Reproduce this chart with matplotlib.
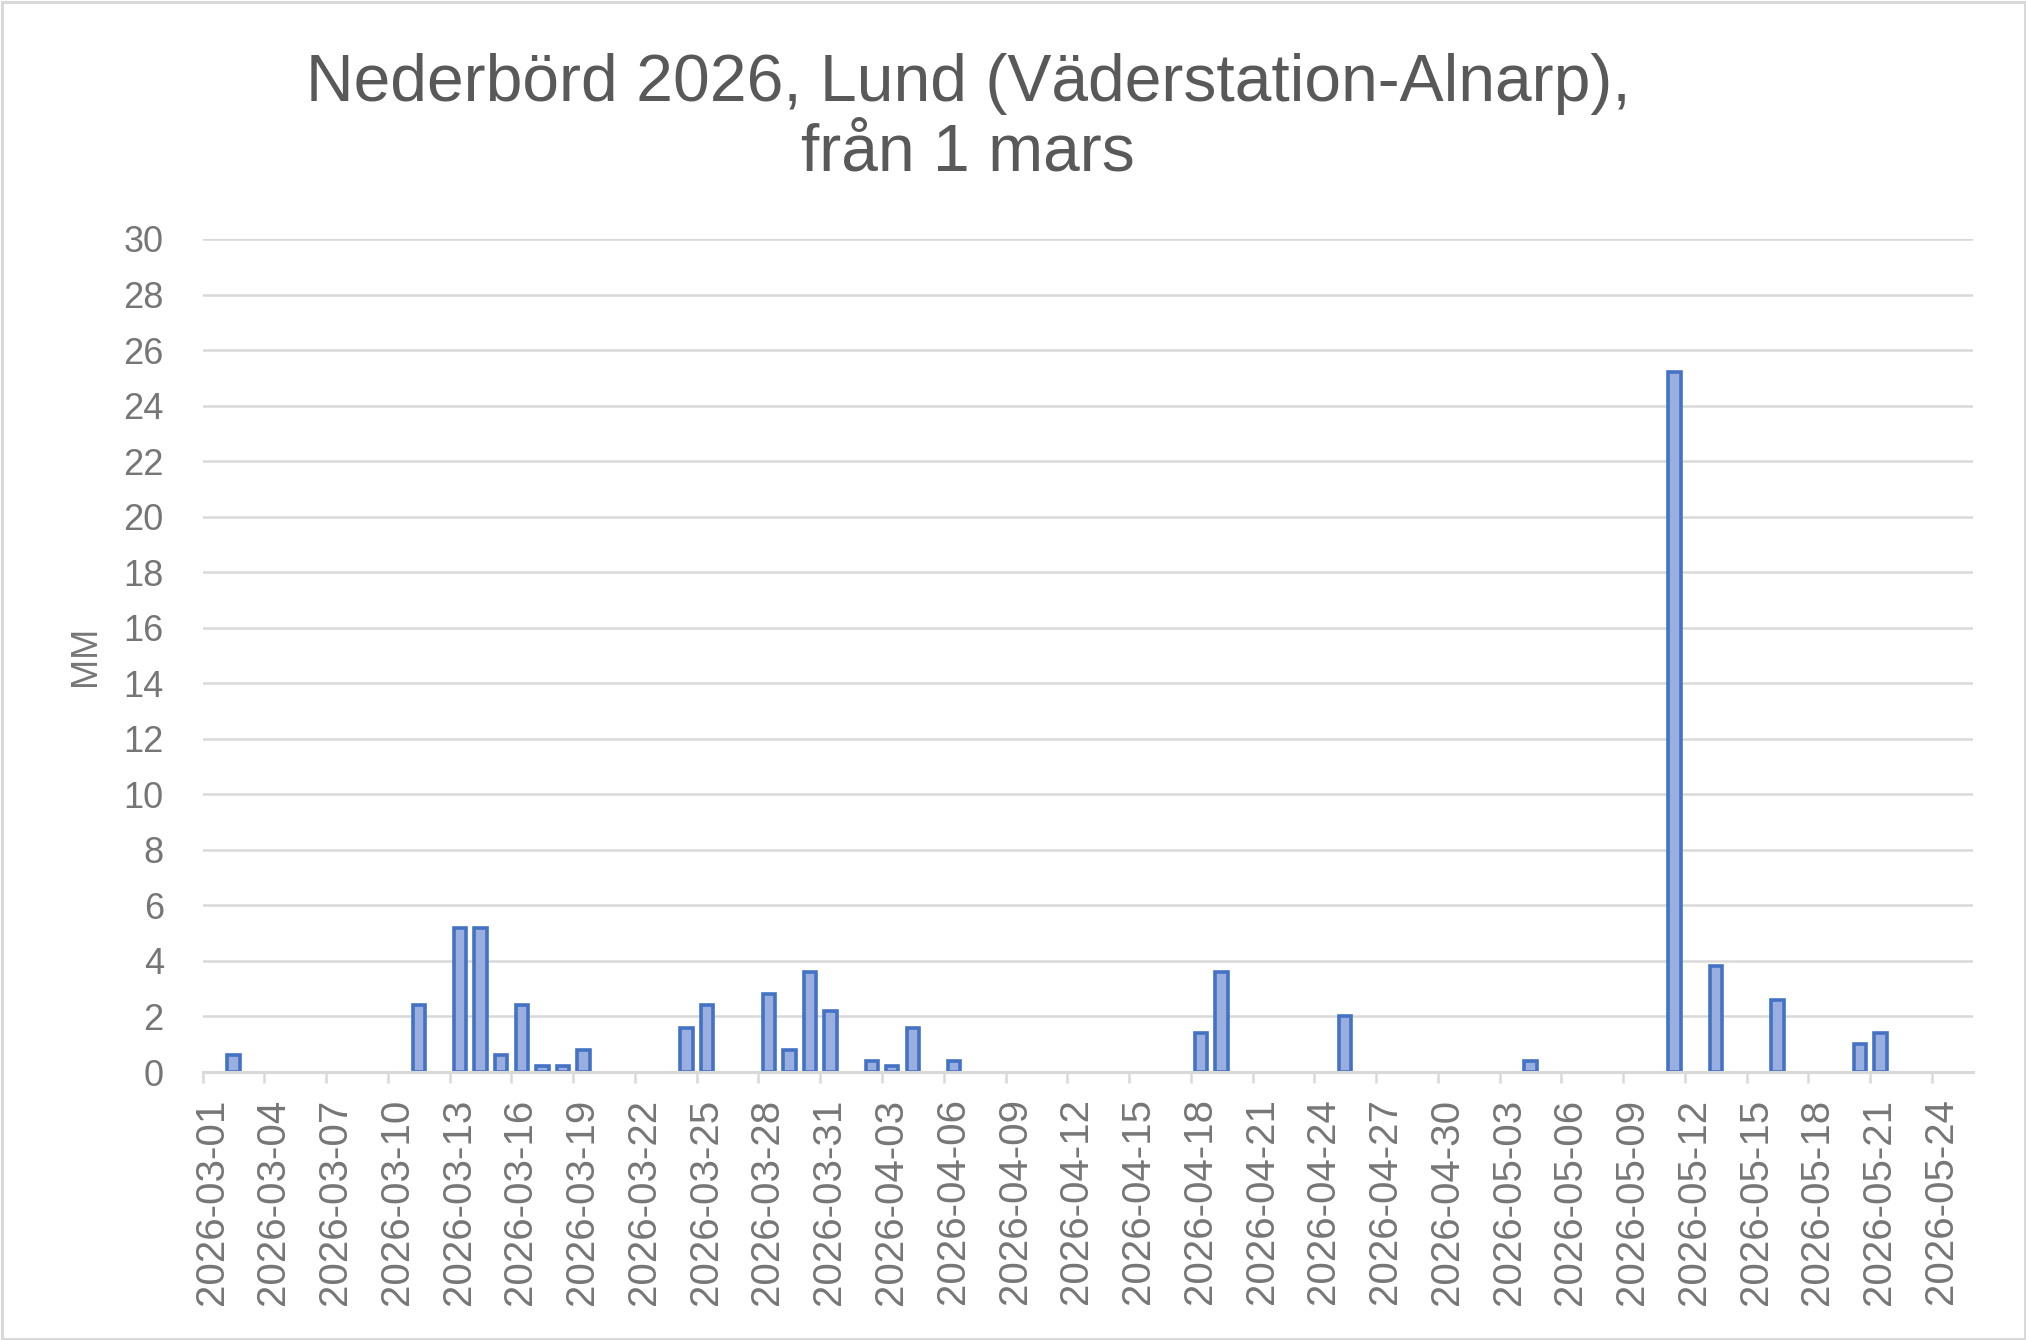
import matplotlib
matplotlib.use('Agg')
import matplotlib.pyplot as plt
import matplotlib.dates as mdates
import matplotlib.transforms as mtransforms
from matplotlib.patches import Rectangle
import numpy as np

# daily rain in mm, only days with rain
rain_dates = ['2026-03-02', '2026-03-11', '2026-03-13', '2026-03-14', '2026-03-15',
	'2026-03-16', '2026-03-17', '2026-03-18', '2026-03-19', '2026-03-24',
	'2026-03-25', '2026-03-28', '2026-03-29', '2026-03-30', '2026-03-31',
	'2026-04-02', '2026-04-03', '2026-04-04', '2026-04-06', '2026-04-18',
	'2026-04-19', '2026-04-25', '2026-05-04', '2026-05-11', '2026-05-13',
	'2026-05-16', '2026-05-20', '2026-05-21']
rain_mm = [0.6, 2.4, 5.2, 5.2, 0.6,
	2.4, 0.2, 0.2, 0.8, 1.6,
	2.4, 2.8, 0.8, 3.6, 2.2,
	0.4, 0.2, 1.6, 0.4, 1.4,
	3.6, 2.0, 0.4, 25.2, 3.8,
	2.6, 1.0, 1.4]

axis_start = '2026-03-01'
axis_end = '2026-05-26'
title_text = 'Nederbörd 2026, Lund (Väderstation-Alnarp),\nfrån 1 mars'
y_label = 'MM'
y_ticks = list(range(0, 31, 2))

plt.rcParams['font.family'] = ['Liberation Sans', 'DejaVu Sans']

W, H = 2026, 1340
fig = plt.figure(figsize=(W / 100, H / 100), dpi=100)
ax = fig.add_axes([202.7 / W, 1 - 1072 / H, (1973 - 202.7) / W, (1072 - 239) / H])

# chart border
fig.patches.append(Rectangle((1.5 / W, 1.5 / H), 1 - 3 / W, 1 - 3 / H, transform=fig.transFigure,
	fill=False, edgecolor='#d9d9d9', linewidth=2.2))

# bars centred in the middle of each day
x = np.array(rain_dates, dtype='datetime64[D]') + np.timedelta64(12, 'h')
x = mdates.date2num(x.astype('datetime64[s]').astype(object))
ax.bar(x, rain_mm, width=0.6, color='#9aaee0', edgecolor='#4472c4', linewidth=2.6, zorder=3)

x0 = mdates.datestr2num(axis_start)
x1 = mdates.datestr2num(axis_end)
ax.set_xlim(x0, x1)
ax.set_ylim(0, 30)

ax.set_xticks(np.arange(x0, x1, 3))
ax.xaxis.set_major_formatter(mdates.DateFormatter('%Y-%m-%d'))
ax.set_yticks(y_ticks)
ax.grid(axis='y', color='#d9d9d9', linewidth=1.8, zorder=0)
ax.set_axisbelow(True)

for s in ['top', 'right', 'left']:
	ax.spines[s].set_visible(False)
ax.spines['bottom'].set_color('#d9d9d9')
ax.spines['bottom'].set_linewidth(2.2)
ax.spines['bottom'].set_zorder(4)

ax.tick_params(axis='x', length=8, width=1.8, color='#d9d9d9', pad=11,
	labelsize=29, labelcolor='#767676', labelrotation=90)
ax.tick_params(axis='y', length=0, pad=28, labelsize=26, labelcolor='#767676')

# excel puts the rotated date labels a bit right of the tick
shift = mtransforms.ScaledTranslation(0.09, 0, fig.dpi_scale_trans)
for lab in ax.get_xticklabels():
	lab.set_transform(lab.get_transform() + shift)

fig.text(85 / W, 1 - 656 / H, y_label, rotation=90, ha='center', va='center',
	fontsize=26, color='#767676')
fig.text(968 / W, 1 - 53 / H, title_text, ha='center', va='top', fontsize=47.5,
	color='#595959', linespacing=1.15)

fig.savefig('out.png', dpi=100)
